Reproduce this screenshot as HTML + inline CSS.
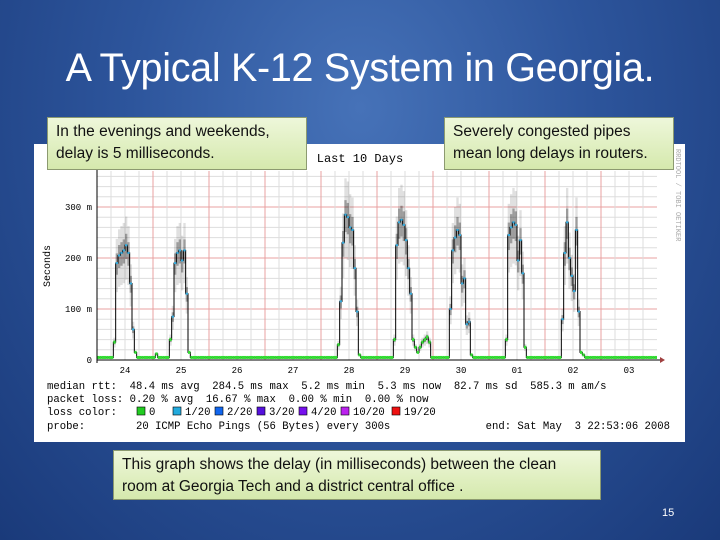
<!DOCTYPE html>
<html><head><meta charset="utf-8">
<style>
body{margin:0;width:720px;height:540px;overflow:hidden;}
#slide{position:relative;width:720px;height:540px;background:radial-gradient(ellipse at 50% 20%,#4672b8 0%,#2d559c 45%,#1a3a7a 100%);font-family:"Liberation Sans",sans-serif;}
.title{position:absolute;left:0;top:46px;width:720px;text-align:center;color:#fff;font-size:39.5px;letter-spacing:-0.3px;}
.box{position:absolute;background:linear-gradient(#eef7da,#d5e9ad);border:1px solid #8c9a70;color:#111;font-size:15.5px;line-height:22px;padding:3px 8px;box-sizing:border-box;}
#panel{position:absolute;left:34px;top:144px;width:651px;height:298px;background:#fff;}
.pg{position:absolute;left:662px;top:507px;color:#fff;font-size:11px;}
svg text{white-space:pre;}
</style></head><body>
<div id="slide">
<div class="title">A Typical K-12 System in Georgia.</div>
<div id="panel">
<svg id="chart" width="651" height="298" viewBox="0 0 651 298"></svg>
</div>
<div class="box" style="left:47px;top:117px;width:260px;height:53px;">In the evenings and weekends,<br>delay is 5 milliseconds.</div>
<div class="box" style="left:444px;top:117px;width:230px;height:53px;">Severely congested pipes<br>mean long delays in routers.</div>
<div class="box" style="left:113px;top:450px;width:488px;height:50px;">This graph shows the delay (in milliseconds) between the clean<br>room at Georgia Tech and a district central office .</div>
<div class="pg">15</div>
</div>
<script>
const dayLabels=["24","25","26","27","28","29","30","01","02","03"];
const yTicks=[0,100,200,300];
const yTickLabels=["0","100 m","200 m","300 m"];
const quiet=[5,5,5,5,5,5,5,5,5,5,5,5,5,5,5,5,5,5,5,5,5,5,5,5];
const day24=[5,5,5,5,5,5,5,35,190,205,210,215,225,210,150,60,15,5,5,5,5,5,5,5];
const day25=[5,12,5,5,5,5,5,40,85,190,210,215,195,215,130,15,5,5,5,5,5,5,5,5];
const day28=[5,5,5,5,5,5,5,30,115,230,285,280,260,255,180,95,10,5,5,5,5,5,5,5];
const day29=[5,5,5,5,5,5,5,40,225,270,275,265,235,180,130,40,25,15,25,35,40,45,35,5];
const day30=[5,5,5,5,5,5,5,100,215,240,255,245,150,160,70,75,10,5,5,5,5,5,5,5];
const day01=[5,5,5,5,5,5,5,40,245,260,270,265,195,235,170,25,5,5,5,5,5,5,5,5];
const day02=[5,5,5,5,5,5,5,80,210,270,200,165,135,255,95,15,10,5,5,5,5,5,5,5];
const median=[].concat(day24,day25,quiet,quiet,day28,day29,day30,day01,day02,quiet);
const statsLines=["median rtt:  48.4 ms avg  284.5 ms max  5.2 ms min  5.3 ms now  82.7 ms sd  585.3 m am/s","packet loss: 0.20 % avg  16.67 % max  0.00 % min  0.00 % now"];
const lossLabels=["0","1/20","2/20","3/20","4/20","10/20","19/20"];
const lossColors=["#22cc22","#22aadd","#1166ee","#5511dd","#7711ee","#bb22ee","#ee1111"];

const NS="http://www.w3.org/2000/svg";
const svg=document.getElementById('chart');
const X0=63,X1=623,Y0=216,YT=27;
const nH=median.length;
const xs=h=>X0+h*(X1-X0)/nH;
const ys=v=>Y0-v*(51/100);
function mk(t,a,p){const e=document.createElementNS(NS,t);for(const k in a)e.setAttribute(k,a[k]);(p||svg).appendChild(e);return e;}
for(let v=20;v<=380;v+=20){if(ys(v)<YT)break;const l=mk('line',{x1:X0,x2:X1,y1:ys(v),y2:ys(v),stroke:v%100===0?'#e8a0a0':'#dddddd','stroke-width':1});
}
for(let h=6;h<nH;h+=6){const l=mk('line',{x1:xs(h),x2:xs(h),y1:YT,y2:Y0,stroke:h%24===0?'#e8a0a0':'#dddddd','stroke-width':1});
}
for(let i=0;i<nH;i++){const v=median[i];if(v<20)continue;
const x=xs(i),w=xs(i+1)-xs(i);
const r1=mk('rect',{x:x,width:w,y:ys(v*1.25),height:ys(v*0.7)-ys(v*1.25),fill:'#000','fill-opacity':0.12});

const r2=mk('rect',{x:x,width:w,y:ys(v*1.1),height:ys(v*0.88)-ys(v*1.1),fill:'#000','fill-opacity':0.3});
}
let d='';for(let i=0;i<nH;i++){d+=(i?'L':'M')+xs(i)+' '+ys(median[i])+'L'+xs(i+1)+' '+ys(median[i]);}
const ml=mk('path',{d:d,fill:'none',stroke:'#000','stroke-width':1});

for(let i=0;i<nH;i++){const v=median[i];
const seg=mk('line',{x1:xs(i),x2:xs(i+1),y1:ys(v),y2:ys(v),stroke:v<50?'#33dd33':'#33aadd','stroke-width':v<50?3:2});
}
const ax=mk('line',{x1:X0,x2:X1+6,y1:Y0,y2:Y0,stroke:'#000'});
const ay=mk('line',{x1:X0,x2:X0,y1:Y0+3,y2:YT-4,stroke:'#000'});
const ar=mk('path',{d:`M${X1+8} ${Y0}l-5 -3v6z`,fill:'#a04040'});
const font='"Liberation Mono",monospace';
yTicks.forEach((v,i)=>{const t=mk('text',{x:X0-5,y:ys(v)+3,'text-anchor':'end','font-size':9,'font-family':font,fill:'#000'});t.textContent=yTickLabels[i];
});
dayLabels.forEach((s,i)=>{const t=mk('text',{x:xs(i*24+12),y:Y0+13,'text-anchor':'middle','font-size':9,'font-family':font,fill:'#000'});t.textContent=s;
});
const yt=mk('text',{x:0,y:0,transform:'translate(16 122) rotate(-90)','text-anchor':'middle','font-size':10,'font-family':font,fill:'#000'});yt.textContent='Seconds';

const ct=mk('text',{x:326,y:18,'text-anchor':'middle','font-size':12,'font-family':font,fill:'#000'});ct.textContent='Last 10 Days';

const rt=mk('text',{x:0,y:0,transform:'translate(642 5) rotate(90)','font-size':7,'font-family':font,fill:'#aaa'});rt.textContent='RRDTOOL / TOBI OETIKER';

statsLines.forEach((s,i)=>{const t=mk('text',{x:13,y:245+i*13,'font-size':10.6,'font-family':font,fill:'#000'});t.textContent=s;
});
const ll=mk('text',{x:13,y:271,'font-size':10.6,'font-family':font,fill:'#000'});ll.textContent='loss color:';

let lx=103;lossLabels.forEach((s,i)=>{const r=mk('rect',{x:lx,y:263,width:8,height:8,fill:lossColors[i],stroke:'#000','stroke-width':0.6});

const t=mk('text',{x:lx+12,y:271,'font-size':10.6,'font-family':font,fill:'#000'});t.textContent=s;
lx+=i===0?36:(i<5?42:51);});
const pr=mk('text',{x:13,y:285,'font-size':10.6,'font-family':font,fill:'#000'});pr.textContent='probe:        20 ICMP Echo Pings (56 Bytes) every 300s';

const en=mk('text',{x:636,y:285,'text-anchor':'end','font-size':10.6,'font-family':font,fill:'#000'});en.textContent='end: Sat May  3 22:53:06 2008';

</script>
</body></html>
